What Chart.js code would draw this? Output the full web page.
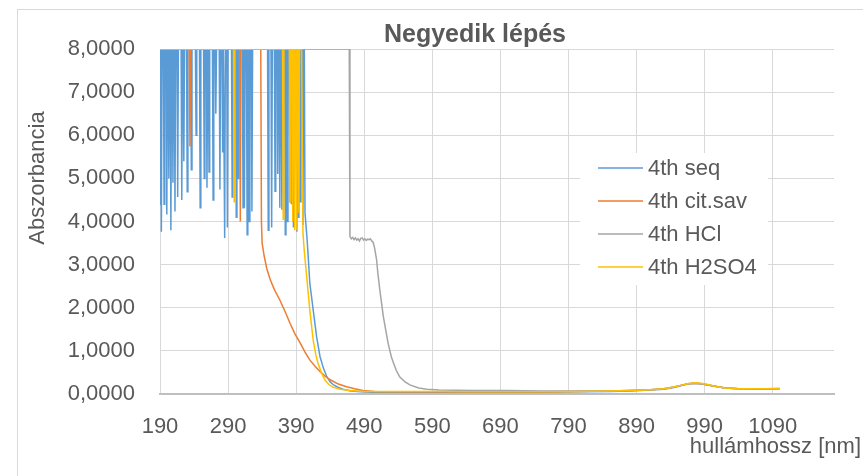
<!DOCTYPE html>
<html>
<head>
<meta charset="utf-8">
<script src="https://cdn.jsdelivr.net/npm/chart.js@4.4.1/dist/chart.umd.min.js"></script>
<style>
  html, body { margin: 0; padding: 0; background: #fff; }
  #wrap { width: 863px; height: 476px; }
</style>
</head>
<body>
<div id="wrap"><canvas id="chart" width="863" height="476"></canvas></div>
<script>
// Tengelyek
const xTicks = [190, 290, 390, 490, 590, 690, 790, 890, 990, 1090];
const yTicks = [0, 1, 2, 3, 4, 5, 6, 7, 8];

const seriesNames = ['4th seq', '4th cit.sav', '4th HCl', '4th H2SO4'];
const seriesColors = ['#5b9bd5', '#ed7d31', '#a5a5a5', '#ffc000'];

// 4th seq (kék)
const seqNm = [
  190, 191, 192, 193,
  195, 196, 197, 199, 200, 201, 202, 203, 204, 205, 206, 207,
  208, 209, 210, 211, 212, 213, 215, 216, 217, 221, 222, 223,
  224, 225, 226, 229, 230, 231, 235, 236, 237, 242, 243, 244,
  248, 249, 250, 254, 255, 256, 258, 259, 260, 261, 262, 263,
  267, 268, 269, 271, 272, 273, 277, 278, 279, 281, 282, 283,
  284, 285, 286, 288, 289, 290, 295, 296, 297, 301, 302, 303,
  304, 305, 306, 311, 312, 313, 314, 315, 317, 318, 319,
  320, 321, 322, 324, 325, 326, 348, 349, 350, 353, 354, 355,
  358, 359, 360, 362, 363, 364, 365, 366, 367, 368, 369, 370,
  373, 374, 375, 376, 377, 378, 380, 381, 382, 383, 384,
  385, 386, 387, 390, 391, 392, 393, 394, 395, 396, 397,
  399, 400, 401, 402, 403, 406, 408, 410, 415, 420, 425, 430,
  435, 440, 445, 452, 459, 470, 485, 500, 550, 600, 650, 700,
  750, 800, 850, 880, 910, 930, 945, 955, 965, 975, 985, 995,
  1005, 1020, 1040, 1060, 1080, 1100
];
const seqAbs = [
  4.4, 8, 3.76, 8,
  8, 4.4, 8, 8, 4.16, 8, 8, 5.0, 8, 8, 3.8, 8,
  8, 4.9, 8, 8, 4.23, 8, 8, 4.57, 8, 8, 4.5, 8,
  8, 5.4, 8, 8, 4.69, 8, 8, 5.2, 8, 8, 6.0, 8,
  8, 4.32, 8, 8, 5.0, 8, 8, 4.78, 8, 8, 5.15, 8,
  8, 4.5, 8, 8, 6.5, 8, 8, 4.74, 8, 8, 5.6, 8,
  8, 3.62, 8, 8, 3.86, 8, 8, 4.57, 8, 8, 4.1, 8,
  8, 5.0, 8, 8, 4.32, 8, 4.32, 8, 8, 3.69, 8,
  8, 4.0, 8, 8, 4.23, 8, 8, 3.8, 8, 8, 3.86, 8,
  8, 4.7, 8, 8, 5.1, 8, 8, 4.32, 8, 8, 4.27, 8,
  8, 3.69, 8, 8, 4.0, 8, 8, 4.46, 8, 4.4, 8,
  8, 3.86, 8, 8, 3.76, 8, 4.1, 8, 8, 4.46, 8,
  8, 3.92, 8, 8, 4.2, 3.6, 3.11, 2.58, 1.95, 1.33, 0.87, 0.6,
  0.4, 0.28, 0.21, 0.15, 0.11, 0.07, 0.05, 0.04, 0.04, 0.04, 0.04, 0.04,
  0.04, 0.05, 0.06, 0.07, 0.09, 0.11, 0.15, 0.19, 0.23, 0.25, 0.24, 0.21,
  0.18, 0.14, 0.12, 0.11, 0.11, 0.12
];

// 4th cit.sav (narancs)
const citNm = [
  190, 233, 234, 235, 307, 308, 309, 338, 339, 340, 343, 347,
  352, 358, 366, 374, 381, 388, 396, 403, 410, 418, 425, 432,
  440, 452, 464, 476, 488, 505, 550, 600, 650, 700, 750, 800,
  850, 880, 910, 930, 945, 955, 965, 975, 985, 995, 1005, 1020,
  1040, 1060, 1080, 1100
];
const citAbs = [
  8, 8, 5.74, 8, 8, 4.0, 8, 8, 4.0, 3.5, 3.2, 2.9,
  2.65, 2.42, 2.18, 1.9, 1.64, 1.4, 1.18, 0.97, 0.79, 0.64, 0.52, 0.42,
  0.33, 0.23, 0.17, 0.12, 0.08, 0.06, 0.05, 0.05, 0.05, 0.05, 0.05, 0.06,
  0.07, 0.08, 0.1, 0.12, 0.16, 0.2, 0.24, 0.25, 0.24, 0.21, 0.18, 0.14,
  0.12, 0.12, 0.12, 0.13
];

// 4th HCl (szürke)
const hclNm = [
  190, 468, 469, 471, 473, 475, 477, 479, 481, 483, 485, 487,
  489, 491, 493, 495, 497, 499, 501, 503, 505, 508, 510, 513,
  518, 525, 530, 533, 537, 542, 550, 557, 570, 582, 600, 650,
  700, 750, 800, 850, 880, 910, 930, 945, 955, 965, 975, 985,
  995, 1005, 1020, 1040, 1060, 1080, 1100
];
const hclAbs = [
  8, 8, 3.65, 3.6, 3.63, 3.58, 3.62, 3.57, 3.6, 3.55, 3.61, 3.62,
  3.57, 3.6, 3.56, 3.59, 3.58, 3.6, 3.55, 3.52, 3.4, 3.13, 2.8, 2.4,
  1.8, 1.18, 0.85, 0.72, 0.55, 0.4, 0.28, 0.21, 0.14, 0.11, 0.09, 0.08,
  0.08, 0.07, 0.07, 0.07, 0.08, 0.1, 0.12, 0.16, 0.2, 0.24, 0.25, 0.24,
  0.21, 0.18, 0.14, 0.12, 0.12, 0.12, 0.12
];

// 4th H2SO4 (sárga)
const h2so4Nm = [
  190, 298, 299, 300, 370, 371, 372, 380, 381, 382, 384, 385,
  386, 387, 388, 389, 390, 391, 392, 393, 394, 395, 398, 400,
  402, 405, 410, 415, 419, 422, 427, 432, 438, 444, 455, 469,
  490, 550, 600, 650, 700, 750, 800, 850, 880, 910, 930, 945,
  955, 965, 975, 985, 995, 1005, 1020, 1040, 1060, 1080, 1100
];
const h2so4Abs = [
  8, 8, 4.46, 8, 8, 4.05, 8, 8, 4.45, 8, 8, 4.0,
  8, 8, 3.8, 8, 8, 3.8, 8, 8, 4.2, 8, 8, 3.73,
  3.3, 2.8, 1.95, 1.25, 0.9, 0.72, 0.5, 0.33, 0.22, 0.16, 0.11, 0.08,
  0.06, 0.06, 0.06, 0.05, 0.05, 0.05, 0.06, 0.07, 0.08, 0.1, 0.12, 0.16,
  0.2, 0.24, 0.26, 0.25, 0.22, 0.18, 0.14, 0.12, 0.12, 0.12, 0.13
];

const FONT = "'Liberation Sans', Arial, sans-serif";
const TEXT = '#595959';

function points(nm, abs) {
  return nm.map((x, i) => ({ x: x, y: abs[i] }));
}

const allNm = [seqNm, citNm, hclNm, h2so4Nm];
const allAbs = [seqAbs, citAbs, hclAbs, h2so4Abs];

const datasets = seriesNames.map((name, i) => ({
  label: name,
  data: points(allNm[i], allAbs[i]),
  borderColor: seriesColors[i],
  backgroundColor: seriesColors[i],
  borderWidth: 1.5,
  pointRadius: 0,
  tension: 0,
  order: 4 - i   // sárga legfelül
}));

// Szövegek, keret és jelmagyarázat
const extras = {
  id: 'extras',
  beforeDraw(chart) {
    const c = chart.ctx;
    c.save();
    c.fillStyle = '#fff';
    c.fillRect(0, 0, chart.width, chart.height);
    c.strokeStyle = '#d9d9d9';
    c.lineWidth = 1;
    c.strokeRect(17.5, 9.5, 1000, 600);
    c.restore();
  },
  afterDatasetsDraw(chart) {
    const c = chart.ctx;
    c.save();
    c.fillStyle = '#fff';
    c.fillRect(580, 153, 188, 132);
    c.font = '22px ' + FONT;
    c.textBaseline = 'middle';
    c.textAlign = 'left';
    seriesNames.forEach((name, i) => {
      const y = 168 + i * 33;
      c.strokeStyle = seriesColors[i];
      c.lineWidth = 1.5;
      c.beginPath();
      c.moveTo(598, y);
      c.lineTo(643, y);
      c.stroke();
      c.fillStyle = TEXT;
      c.fillText(name, 648, y + 1);
    });
    c.restore();
  },
  afterDraw(chart) {
    const c = chart.ctx;
    c.save();
    c.fillStyle = TEXT;
    c.font = 'bold 25px ' + FONT;
    c.textAlign = 'center';
    c.textBaseline = 'alphabetic';
    c.fillText('Negyedik lépés', 475, 42);

    c.font = '22px ' + FONT;
    c.textAlign = 'right';
    c.fillText('hullámhossz [nm]', 861, 453);

    c.translate(38, 178);
    c.rotate(-Math.PI / 2);
    c.textAlign = 'center';
    c.textBaseline = 'middle';
    c.fillText('Abszorbancia', 0, 0);
    c.restore();
  }
};

const ctx = document.getElementById('chart').getContext('2d');
const chart = new Chart(ctx, {
  type: 'line',
  data: { datasets: datasets },
  options: {
    responsive: false,
    animation: false,
    layout: { padding: { top: 49, right: 29, bottom: 0, left: 0 } },
    plugins: {
      legend: { display: false },
      title: { display: false },
      tooltip: { enabled: false }
    },
    scales: {
      x: {
        type: 'linear',
        min: 190,
        max: 1180,
        afterBuildTicks: axis => { axis.ticks = xTicks.map(v => ({ value: v })); },
        afterFit: axis => { axis.height = 82; },
        ticks: {
          color: TEXT,
          font: { family: FONT, size: 22 },
          padding: 20,
          maxRotation: 0,
          autoSkip: false,
          callback: v => String(v)
        },
        grid: { color: '#d9d9d9', drawTicks: false },
        border: { color: '#bfbfbf', width: 2 }
      },
      y: {
        min: 0,
        max: 8,
        afterBuildTicks: axis => { axis.ticks = yTicks.map(v => ({ value: v })); },
        afterFit: axis => { axis.width = 160; },
        ticks: {
          color: TEXT,
          font: { family: FONT, size: 22 },
          padding: 25,
          callback: v => v.toFixed(4).replace('.', ',')
        },
        grid: { color: '#d9d9d9', drawTicks: false },
        border: { display: false }
      }
    }
  },
  plugins: [extras]
});
</script>
</body>
</html>
